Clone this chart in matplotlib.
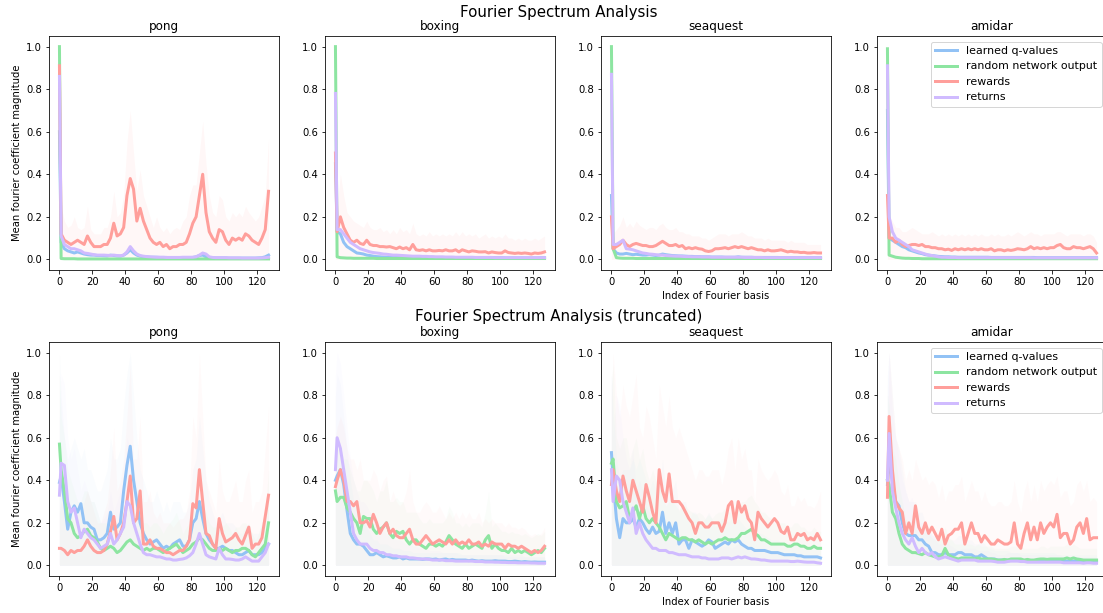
import numpy as np
import matplotlib.pyplot as plt

idx = [0] + list(range(1, 128, 2))

games = ["pong", "boxing", "seaquest", "amidar"]
labels = ["learned q-values", "random network output", "rewards", "returns"]
colors = ["#92c2f5", "#8de5a1", "#ff9f9b", "#d0bbff"]

# ---- full spectrum ----
pong_q = [.6, .08, .05, .04, .035, .03, .035, .03, .025, .022, .02, .02, .018,
          .018, .017, .016, .02, .018, .016, .015, .02, .03, .045, .03, .02, .015,
          .012, .012, .01, .01, .01, .009, .009, .009, .008, .008, .008, .008, .008,
          .008, .008, .009, .012, .018, .02, .012, .008, .007, .007, .007, .007, .007,
          .006, .006, .006, .006, .006, .006, .006, .006, .006, .007, .008, .012, .02]
pong_rnd = [1.0, .004, .003, .003, .003, .003, .002, .002, .002, .002, .002, .002, .002,
            .002, .002, .002, .002, .002, .002, .002, .002, .002, .002, .002, .002, .002,
            .002, .002, .002, .002, .002, .002, .002, .002, .002, .002, .002, .002, .002,
            .002, .002, .002, .002, .002, .002, .002, .002, .002, .002, .002, .002, .002,
            .002, .002, .002, .002, .002, .002, .002, .002, .002, .002, .002, .002, .002]
pong_rew = [.91, .12, .09, .08, .07, .08, .09, .08, .07, .11, .08, .06, .06,
            .06, .07, .07, .1, .17, .11, .12, .15, .3, .38, .33, .18, .24,
            .18, .14, .1, .08, .07, .08, .06, .07, .05, .06, .06, .07, .07,
            .08, .12, .17, .2, .3, .4, .22, .13, .1, .08, .14, .13, .09,
            .07, .1, .09, .1, .09, .12, .11, .09, .08, .07, .1, .14, .32]
pong_ret = [.86, .11, .07, .06, .05, .05, .045, .04, .03, .028, .025, .022, .02,
            .02, .02, .019, .018, .02, .018, .017, .02, .035, .06, .04, .025, .018,
            .015, .013, .012, .011, .01, .01, .01, .009, .009, .009, .009, .009, .01,
            .01, .01, .01, .012, .02, .03, .025, .012, .009, .008, .008, .008, .008,
            .007, .007, .007, .007, .006, .006, .006, .006, .006, .006, .007, .008, .01]
pong_rew_hi = [.95, .25, .18, .15, .16, .2, .15, .14, .15, .25, .14, .12, .12,
               .12, .15, .15, .2, .32, .2, .22, .3, .55, .7, .5, .32, .42,
               .3, .25, .2, .15, .2, .15, .13, .15, .12, .14, .15, .14, .18,
               .2, .3, .35, .35, .5, .65, .45, .3, .22, .2, .3, .28, .2,
               .18, .22, .2, .22, .2, .25, .22, .2, .18, .2, .25, .3, .57]

boxing_q = [.45, .13, .12, .08, .06, .05, .04, .03, .028, .025, .02, .018, .015,
            .013, .012, .011, .01, .01, .009, .009, .009, .008, .008, .008, .008, .008,
            .008, .008, .008, .008, .008, .008, .008, .008, .008, .008, .008, .008, .008,
            .008, .008, .008, .008, .008, .008, .008, .008, .008, .008, .008, .008, .008,
            .007, .007, .007, .007, .007, .007, .007, .007, .007, .007, .007, .008, .008]
boxing_rnd = [1.0, .012, .008, .007, .006, .006, .005, .005, .005, .005, .005, .005, .005,
              .004, .004, .004, .004, .004, .004, .004, .004, .004, .004, .004, .004, .004,
              .004, .004, .004, .004, .004, .004, .004, .004, .004, .004, .004, .004, .004,
              .004, .004, .004, .004, .004, .004, .004, .004, .004, .004, .004, .004, .004,
              .004, .004, .004, .004, .004, .004, .004, .004, .004, .004, .004, .004, .004]
boxing_rew = [.5, .13, .2, .15, .12, .09, .08, .09, .075, .07, .09, .07, .065,
              .065, .06, .06, .058, .06, .055, .05, .058, .05, .055, .045, .07, .045,
              .042, .045, .04, .045, .04, .04, .042, .04, .045, .04, .04, .045, .035,
              .045, .04, .035, .04, .038, .035, .035, .036, .03, .035, .032, .03, .03,
              .04, .032, .03, .028, .03, .028, .03, .028, .025, .03, .028, .03, .035]
boxing_ret = [.78, .14, .14, .12, .1, .08, .07, .06, .05, .045, .04, .035, .032,
              .03, .028, .025, .024, .022, .02, .02, .019, .018, .017, .016, .015, .015,
              .015, .014, .014, .013, .013, .012, .012, .012, .011, .011, .011, .01, .01,
              .01, .01, .01, .01, .009, .009, .009, .009, .009, .009, .008, .008, .008,
              .008, .008, .008, .008, .008, .008, .008, .008, .008, .008, .008, .008, .008]
boxing_rew_hi = [.55, .25, .4, .3, .22, .2, .18, .17, .16, .15, .18, .15, .14,
                 .14, .15, .13, .14, .12, .14, .12, .15, .13, .14, .12, .17, .12,
                 .11, .12, .11, .13, .11, .12, .11, .12, .11, .12, .11, .13, .11,
                 .13, .11, .12, .11, .12, .1, .11, .12, .1, .11, .1, .11, .1,
                 .12, .1, .1, .09, .1, .09, .1, .09, .09, .1, .09, .1, .11]

seaquest_q = [.3, .05, .03, .025, .025, .028, .025, .022, .024, .022, .02, .02, .022,
              .02, .018, .02, .025, .022, .02, .018, .017, .016, .016, .015, .014, .014,
              .013, .013, .012, .012, .012, .011, .011, .011, .011, .01, .01, .01, .01,
              .012, .01, .01, .01, .01, .009, .009, .009, .009, .009, .009, .009, .009,
              .008, .008, .008, .008, .008, .008, .008, .008, .008, .008, .008, .008, .008]
seaquest_rnd = [1.0, .05, .008, .006, .005, .005, .005, .005, .004, .004, .004, .004, .004,
                .004, .004, .004, .004, .004, .004, .004, .004, .004, .004, .004, .004, .004,
                .004, .004, .004, .004, .004, .004, .004, .004, .004, .004, .004, .004, .004,
                .004, .004, .004, .004, .004, .004, .004, .004, .004, .004, .004, .004, .004,
                .004, .004, .004, .004, .004, .004, .004, .004, .004, .004, .004, .004, .004]
seaquest_rew = [.2, .05, .06, .07, .09, .07, .06, .07, .075, .07, .065, .065, .06,
                .06, .065, .075, .085, .075, .065, .065, .07, .06, .065, .05, .055, .05,
                .055, .05, .048, .04, .037, .04, .05, .05, .052, .055, .05, .055, .06,
                .055, .06, .055, .05, .055, .05, .045, .045, .04, .045, .04, .04, .042,
                .045, .04, .035, .038, .035, .035, .032, .033, .03, .03, .032, .03, .03]
seaquest_ret = [.87, .07, .07, .08, .09, .05, .048, .045, .04, .035, .03, .028, .025,
                .024, .022, .02, .02, .018, .017, .016, .015, .015, .014, .013, .013, .012,
                .012, .012, .011, .011, .011, .01, .01, .01, .01, .01, .01, .01, .01,
                .01, .01, .009, .009, .009, .009, .009, .009, .008, .008, .008, .008, .008,
                .008, .008, .008, .008, .008, .008, .008, .008, .008, .008, .008, .008, .008]
seaquest_rew_hi = [.3, .12, .14, .16, .2, .15, .17, .15, .18, .16, .15, .14, .15,
                   .15, .14, .16, .17, .15, .14, .14, .15, .13, .13, .12, .12, .11,
                   .11, .11, .1, .1, .09, .1, .11, .12, .12, .12, .11, .12, .12,
                   .12, .13, .12, .11, .11, .1, .1, .1, .09, .1, .09, .09, .09,
                   .09, .09, .08, .09, .08, .08, .08, .08, .07, .07, .07, .07, .07]

amidar_q = [.7, .1, .09, .08, .07, .06, .055, .045, .04, .035, .03, .027, .022,
            .02, .018, .016, .014, .013, .012, .012, .011, .011, .01, .01, .01, .01,
            .01, .01, .01, .01, .01, .01, .009, .009, .009, .009, .009, .009, .009,
            .009, .009, .009, .009, .009, .009, .009, .008, .008, .008, .008, .008, .008,
            .008, .008, .008, .008, .008, .008, .008, .008, .008, .008, .008, .008, .008]
amidar_rnd = [.99, .02, .015, .01, .008, .006, .005, .005, .004, .004, .004, .003, .003,
              .003, .003, .003, .003, .003, .003, .003, .003, .003, .003, .003, .003, .003,
              .003, .003, .003, .003, .003, .003, .003, .003, .003, .003, .003, .003, .003,
              .003, .003, .003, .003, .003, .003, .003, .003, .003, .003, .003, .003, .003,
              .003, .003, .003, .003, .003, .003, .003, .003, .003, .003, .003, .003, .003]
amidar_rew = [.3, .1, .1, .08, .09, .07, .06, .065, .07, .07, .065, .07, .06,
              .06, .055, .055, .05, .05, .045, .048, .042, .05, .045, .05, .045, .05,
              .045, .05, .045, .05, .045, .045, .05, .04, .045, .045, .04, .045, .042,
              .045, .05, .048, .045, .05, .06, .05, .055, .05, .055, .05, .055, .055,
              .065, .07, .055, .05, .05, .06, .055, .055, .05, .055, .06, .05, .03]
amidar_ret = [.91, .2, .13, .1, .09, .08, .07, .06, .045, .04, .035, .03, .025,
              .02, .018, .015, .012, .01, .01, .009, .009, .009, .008, .008, .008, .008,
              .008, .008, .008, .008, .008, .008, .008, .008, .008, .008, .008, .008, .008,
              .008, .008, .008, .008, .008, .008, .007, .007, .007, .007, .007, .007, .007,
              .007, .007, .007, .007, .007, .007, .007, .007, .007, .007, .007, .007, .007]
amidar_rew_hi = [.4, .2, .18, .15, .15, .13, .13, .14, .15, .14, .13, .12, .12,
                 .12, .13, .12, .11, .12, .11, .12, .11, .12, .11, .12, .11, .12,
                 .11, .12, .11, .12, .11, .11, .12, .11, .12, .11, .11, .12, .11,
                 .12, .13, .12, .11, .12, .13, .12, .12, .11, .12, .12, .12, .12,
                 .13, .13, .12, .11, .12, .12, .12, .12, .11, .12, .12, .11, .08]

# ---- truncated spectrum ----
pong_t_q = [.39, .42, .3, .17, .25, .28, .25, .29, .2, .2, .18, .17, .12,
            .12, .13, .15, .25, .17, .18, .2, .35, .47, .56, .4, .3, .2,
            .15, .12, .1, .11, .12, .1, .08, .09, .08, .1, .11, .12, .09,
            .09, .12, .2, .22, .3, .22, .15, .12, .1, .08, .08, .09, .08,
            .07, .07, .06, .05, .05, .06, .07, .05, .05, .05, .06, .08, .1]
pong_t_rnd = [.57, .45, .35, .22, .2, .15, .13, .14, .16, .17, .14, .13, .11,
              .08, .07, .08, .09, .08, .06, .07, .09, .11, .12, .1, .09, .08,
              .07, .08, .07, .08, .08, .07, .06, .07, .08, .09, .1, .08, .06,
              .07, .08, .1, .11, .13, .12, .1, .08, .07, .07, .08, .07, .08,
              .07, .06, .07, .07, .08, .08, .07, .05, .04, .06, .08, .1, .2]
pong_t_rew = [.08, .08, .07, .05, .07, .06, .07, .07, .09, .12, .09, .07, .06,
              .06, .07, .1, .16, .23, .12, .15, .2, .3, .42, .2, .22, .35,
              .1, .1, .12, .09, .08, .08, .07, .06, .06, .05, .06, .07, .07,
              .09, .12, .29, .27, .45, .3, .15, .14, .1, .08, .22, .15, .11,
              .12, .13, .15, .12, .1, .14, .18, .08, .1, .1, .13, .23, .33]
pong_t_ret = [.33, .48, .47, .3, .25, .27, .2, .13, .17, .15, .13, .12, .1,
              .08, .09, .1, .15, .1, .12, .15, .18, .3, .28, .2, .15, .1,
              .06, .05, .05, .045, .04, .04, .035, .03, .03, .025, .025, .028, .03,
              .035, .045, .06, .1, .15, .1, .05, .04, .035, .03, .08, .05, .03,
              .03, .028, .025, .025, .03, .04, .03, .02, .02, .02, .04, .06, .1]
pong_t_q_hi = [1.0, .8, .6, .5, .55, .6, .55, .5, .55, .45, .45, .4, .35,
               .35, .4, .45, .6, .5, .5, .55, .75, .9, 1.0, .8, .6, .45,
               .4, .35, .3, .3, .35, .3, .25, .3, .25, .3, .3, .3, .25,
               .25, .3, .45, .5, .7, .55, .4, .3, .25, .2, .22, .25, .2,
               .2, .2, .18, .15, .15, .18, .2, .15, .15, .15, .2, .25, .35]
pong_t_rnd_hi = [.9, .7, .6, .45, .4, .35, .3, .3, .35, .35, .3, .3, .25,
                 .2, .2, .2, .22, .2, .18, .2, .22, .25, .3, .25, .22, .2,
                 .2, .2, .18, .2, .2, .18, .15, .18, .2, .22, .25, .2, .15,
                 .18, .2, .25, .28, .3, .28, .25, .2, .18, .18, .2, .18, .2,
                 .18, .15, .18, .18, .2, .2, .18, .15, .12, .15, .2, .25, .45]
pong_t_rew_hi = [.25, .3, .25, .2, .25, .2, .25, .25, .3, .35, .3, .25, .2,
                 .2, .25, .3, .45, .65, .35, .4, .5, .7, .95, .5, .5, .7,
                 .3, .3, .35, .25, .22, .25, .2, .2, .2, .18, .2, .22, .22,
                 .25, .35, .7, .6, 1.0, .7, .4, .35, .3, .25, .5, .35, .3,
                 .3, .35, .4, .3, .3, .4, .45, .25, .3, .3, .35, .55, .75]
pong_t_ret_hi = [.7, .9, .85, .6, .5, .55, .45, .35, .4, .35, .3, .3, .25,
                 .2, .22, .25, .35, .25, .3, .35, .4, .6, .55, .45, .35, .25,
                 .15, .13, .12, .12, .1, .1, .09, .08, .08, .07, .07, .08, .08,
                 .09, .12, .15, .25, .35, .25, .13, .1, .09, .08, .2, .12, .08,
                 .08, .07, .07, .07, .08, .1, .08, .06, .06, .06, .1, .15, .25]

boxing_t_q = [.4, .42, .45, .38, .26, .15, .12, .1, .1, .09, .07, .05, .05,
              .06, .05, .04, .045, .04, .035, .035, .04, .03, .035, .03, .03, .03,
              .03, .028, .03, .03, .028, .03, .025, .028, .03, .025, .028, .025, .025,
              .025, .025, .022, .025, .022, .02, .022, .02, .02, .02, .022, .02, .02,
              .02, .018, .018, .02, .018, .016, .018, .016, .015, .016, .015, .015, .015]
boxing_t_rnd = [.35, .3, .32, .32, .27, .25, .22, .2, .15, .23, .22, .22, .17,
                .15, .17, .18, .2, .15, .13, .16, .15, .16, .12, .1, .12, .12,
                .1, .09, .08, .1, .1, .09, .1, .09, .11, .14, .12, .1, .09,
                .08, .1, .08, .09, .1, .09, .08, .12, .14, .08, .1, .08, .07,
                .07, .06, .08, .06, .07, .06, .07, .06, .05, .06, .07, .06, .08]
boxing_t_rew = [.37, .4, .45, .4, .3, .3, .28, .3, .2, .2, .21, .18, .24,
                .2, .15, .18, .2, .15, .17, .14, .13, .13, .15, .17, .12, .1,
                .1, .12, .14, .12, .1, .11, .12, .11, .1, .12, .1, .12, .1,
                .11, .1, .12, .1, .1, .11, .09, .1, .09, .11, .1, .1, .1,
                .08, .1, .09, .09, .08, .09, .08, .07, .06, .07, .06, .07, .09]
boxing_t_ret = [.45, .6, .55, .45, .35, .25, .15, .12, .1, .1, .1, .08, .07,
                .07, .06, .06, .05, .05, .045, .045, .04, .04, .04, .035, .035, .033,
                .03, .03, .03, .028, .025, .025, .025, .025, .022, .022, .022, .02, .02,
                .02, .02, .02, .02, .018, .018, .018, .016, .016, .016, .015, .015, .014,
                .014, .013, .013, .013, .012, .012, .012, .012, .011, .011, .01, .01, .01]
boxing_t_q_hi = [.8, .9, .85, .7, .55, .4, .3, .25, .2, .2, .18, .15, .12,
                 .12, .1, .1, .1, .09, .08, .08, .08, .07, .07, .07, .06, .06,
                 .06, .06, .06, .06, .06, .06, .06, .06, .06, .06, .06, .06, .06,
                 .05, .05, .05, .05, .05, .05, .05, .05, .05, .05, .05, .05, .05,
                 .05, .05, .05, .05, .05, .05, .04, .04, .04, .04, .04, .04, .04]
boxing_t_rnd_hi = [.6, .55, .55, .5, .5, .45, .4, .35, .35, .4, .4, .38, .35,
                   .3, .35, .35, .4, .3, .3, .32, .3, .3, .25, .25, .25, .25,
                   .22, .2, .2, .22, .2, .2, .2, .2, .22, .28, .25, .2, .2,
                   .18, .2, .18, .2, .2, .2, .18, .25, .35, .18, .2, .18, .16,
                   .16, .15, .16, .15, .15, .14, .15, .14, .13, .14, .15, .14, .16]
boxing_t_rew_hi = [.6, .65, .7, .65, .55, .5, .5, .45, .5, .4, .4, .4, .45,
                   .42, .35, .4, .42, .3, .35, .3, .28, .3, .35, .45, .3, .25,
                   .25, .28, .3, .28, .25, .25, .28, .25, .22, .25, .22, .25, .22,
                   .25, .22, .25, .22, .22, .25, .2, .22, .2, .22, .2, .2, .2,
                   .18, .2, .18, .18, .17, .18, .17, .15, .14, .15, .14, .15, .18]
boxing_t_ret_hi = [.9, 1.0, .95, .8, .65, .5, .4, .35, .3, .3, .28, .25, .22,
                   .2, .18, .16, .15, .14, .13, .12, .12, .11, .1, .1, .09, .09,
                   .08, .08, .08, .07, .07, .07, .07, .06, .06, .06, .06, .06, .05,
                   .05, .05, .05, .05, .05, .05, .05, .05, .05, .05, .05, .05, .05,
                   .04, .04, .04, .04, .04, .04, .04, .04, .04, .04, .04, .04, .04]

seaquest_t_q = [.53, .4, .22, .13, .22, .2, .2, .22, .18, .22, .2, .17, .15,
                .18, .15, .16, .25, .15, .2, .15, .2, .1, .12, .12, .08, .12,
                .11, .1, .09, .1, .12, .11, .08, .09, .1, .11, .1, .12, .11,
                .12, .1, .09, .08, .08, .07, .07, .07, .07, .065, .06, .06, .06,
                .055, .05, .05, .05, .05, .045, .045, .04, .04, .04, .04, .04, .035]
seaquest_t_rnd = [.48, .5, .3, .27, .28, .3, .22, .25, .28, .22, .28, .22, .2,
                  .22, .2, .18, .15, .12, .15, .14, .13, .12, .13, .13, .12, .12,
                  .11, .12, .11, .1, .11, .1, .11, .12, .12, .13, .12, .12, .12,
                  .13, .15, .15, .16, .17, .15, .14, .12, .12, .11, .1, .1, .1,
                  .1, .1, .09, .09, .1, .1, .09, .09, .08, .08, .09, .08, .08]
seaquest_t_rew = [.38, .45, .35, .3, .42, .35, .3, .4, .35, .3, .25, .38, .32,
                  .25, .2, .45, .35, .3, .43, .3, .3, .3, .28, .25, .22, .2,
                  .15, .2, .2, .18, .18, .2, .2, .2, .16, .2, .28, .3, .2,
                  .3, .25, .28, .22, .2, .12, .25, .22, .2, .18, .2, .22, .2,
                  .16, .15, .18, .12, .12, .15, .14, .15, .12, .13, .12, .15, .12]
seaquest_t_ret = [.45, .3, .42, .4, .3, .25, .2, .27, .15, .2, .15, .12, .1,
                  .08, .08, .07, .07, .07, .06, .06, .055, .05, .05, .05, .045, .04,
                  .04, .04, .035, .035, .03, .03, .03, .03, .035, .035, .035, .03, .035,
                  .04, .035, .04, .035, .03, .03, .028, .025, .025, .022, .02, .02, .02,
                  .02, .02, .02, .018, .018, .02, .018, .016, .015, .015, .015, .012, .01]
seaquest_t_q_hi = [.9, .75, .5, .4, .45, .45, .45, .5, .45, .5, .45, .4, .35,
                   .4, .35, .35, .5, .35, .4, .35, .4, .25, .3, .3, .2, .25,
                   .25, .22, .2, .22, .25, .22, .18, .2, .22, .22, .2, .22, .2,
                   .22, .2, .18, .16, .16, .15, .15, .15, .14, .13, .12, .12, .12,
                   .11, .1, .1, .1, .1, .09, .09, .08, .08, .08, .08, .08, .07]
seaquest_t_rnd_hi = [.85, .95, .6, .55, .6, .6, .5, .55, .6, .5, .55, .45, .4,
                     .45, .4, .38, .32, .28, .3, .3, .28, .26, .28, .28, .26, .25,
                     .24, .25, .24, .22, .24, .22, .24, .25, .25, .27, .25, .25, .25,
                     .27, .3, .3, .32, .33, .3, .28, .25, .25, .23, .22, .2, .2,
                     .2, .2, .18, .18, .2, .2, .18, .18, .16, .16, .18, .16, .16]
seaquest_t_rew_hi = [.8, 1.0, .8, .7, .85, .75, .7, .8, .9, .65, .6, .75, .7,
                     .6, .5, .85, .75, .65, .8, .65, .6, .65, .6, .55, .5, .45,
                     .4, .45, .45, .42, .42, .45, .45, .45, .38, .45, .55, .6, .45,
                     .6, .5, .55, .45, .45, .3, .5, .45, .42, .4, .42, .45, .42,
                     .35, .33, .38, .28, .28, .33, .3, .32, .28, .28, .27, .3, .35]
seaquest_t_ret_hi = [.9, .6, .8, .75, .6, .5, .45, .55, .35, .4, .35, .28, .25,
                     .2, .2, .18, .17, .17, .15, .15, .14, .12, .12, .12, .11, .1,
                     .1, .1, .09, .09, .08, .08, .08, .08, .09, .09, .09, .08, .09,
                     .1, .09, .1, .09, .08, .08, .07, .07, .07, .06, .06, .06, .06,
                     .06, .06, .06, .05, .05, .06, .05, .05, .045, .045, .045, .04, .035]

amidar_t_q = [.38, .5, .4, .3, .28, .2, .15, .14, .14, .14, .12, .12, .1,
              .09, .06, .06, .05, .05, .06, .05, .05, .05, .06, .06, .05, .05,
              .05, .04, .04, .05, .04, .03, .03, .03, .025, .025, .025, .025, .025,
              .025, .025, .025, .022, .022, .02, .02, .022, .02, .02, .02, .02, .02,
              .02, .02, .02, .02, .02, .02, .02, .02, .02, .02, .02, .02, .02]
amidar_t_rnd = [.4, .38, .25, .22, .15, .1, .08, .07, .06, .06, .055, .05, .06,
                .05, .045, .04, .04, .045, .08, .05, .04, .035, .03, .035, .035, .035,
                .035, .03, .035, .03, .03, .03, .03, .028, .025, .025, .028, .025, .03,
                .03, .03, .03, .025, .028, .025, .025, .028, .03, .03, .028, .03, .03,
                .03, .03, .03, .035, .03, .035, .03, .028, .025, .025, .025, .025, .025]
amidar_t_rew = [.32, .7, .45, .3, .27, .25, .15, .2, .15, .28, .18, .15, .2,
                .15, .18, .15, .12, .17, .1, .14, .15, .17, .17, .2, .1, .15,
                .2, .15, .15, .11, .14, .12, .1, .1, .12, .11, .1, .1, .11,
                .2, .1, .08, .15, .2, .12, .18, .12, .2, .15, .18, .2, .18,
                .24, .13, .15, .15, .1, .12, .18, .2, .15, .22, .12, .13, .13]
amidar_t_ret = [.4, .62, .35, .27, .2, .15, .12, .1, .13, .09, .06, .08, .06,
                .05, .06, .04, .03, .035, .04, .035, .03, .025, .02, .025, .025, .025,
                .025, .025, .02, .02, .02, .02, .02, .018, .015, .015, .015, .018, .02,
                .02, .02, .018, .018, .015, .015, .015, .015, .015, .015, .015, .015, .015,
                .015, .015, .012, .012, .012, .012, .012, .012, .01, .012, .012, .01, .01]
amidar_t_q_hi = [.9, 1.0, .8, .6, .55, .45, .35, .3, .3, .3, .25, .25, .2,
                 .18, .14, .14, .12, .12, .14, .12, .12, .12, .14, .14, .12, .12,
                 .12, .1, .1, .12, .1, .08, .08, .07, .07, .07, .07, .07, .06,
                 .06, .06, .06, .06, .06, .06, .06, .06, .06, .06, .06, .06, .06,
                 .05, .05, .05, .05, .05, .05, .05, .05, .05, .05, .05, .05, .05]
amidar_t_rnd_hi = [.8, .75, .55, .5, .38, .3, .22, .2, .18, .17, .16, .15, .16,
                   .15, .13, .12, .12, .13, .18, .13, .12, .1, .1, .1, .1, .1,
                   .1, .09, .1, .09, .09, .09, .09, .08, .08, .08, .08, .08, .09,
                   .09, .09, .09, .08, .08, .08, .08, .08, .09, .09, .08, .09, .09,
                   .09, .09, .09, .1, .09, .1, .09, .08, .08, .08, .08, .08, .08]
amidar_t_rew_hi = [.6, 1.0, .8, .6, .55, .5, .4, .45, .4, .5, .45, .4, .42,
                   .38, .4, .38, .32, .38, .3, .35, .35, .38, .38, .42, .3, .35,
                   .4, .35, .35, .3, .35, .3, .28, .28, .3, .3, .28, .28, .3,
                   .4, .3, .25, .35, .4, .3, .38, .3, .4, .35, .38, .4, .38,
                   .42, .32, .35, .35, .28, .3, .38, .4, .35, .4, .3, .32, .3]
amidar_t_ret_hi = [.85, 1.0, .7, .6, .5, .4, .35, .3, .32, .25, .2, .2, .18,
                   .15, .15, .12, .1, .1, .12, .1, .09, .08, .07, .08, .08, .08,
                   .08, .08, .07, .07, .07, .07, .06, .06, .05, .05, .05, .06, .06,
                   .06, .06, .05, .05, .05, .05, .05, .05, .05, .05, .05, .05, .05,
                   .05, .05, .04, .04, .04, .04, .04, .04, .04, .04, .04, .04, .04]

full = [
    ([pong_q, pong_rnd, pong_rew, pong_ret], [None, None, pong_rew_hi, None]),
    ([boxing_q, boxing_rnd, boxing_rew, boxing_ret], [None, None, boxing_rew_hi, None]),
    ([seaquest_q, seaquest_rnd, seaquest_rew, seaquest_ret], [None, None, seaquest_rew_hi, None]),
    ([amidar_q, amidar_rnd, amidar_rew, amidar_ret], [None, None, amidar_rew_hi, None]),
]
trunc = [
    ([pong_t_q, pong_t_rnd, pong_t_rew, pong_t_ret],
     [pong_t_q_hi, pong_t_rnd_hi, pong_t_rew_hi, pong_t_ret_hi]),
    ([boxing_t_q, boxing_t_rnd, boxing_t_rew, boxing_t_ret],
     [boxing_t_q_hi, boxing_t_rnd_hi, boxing_t_rew_hi, boxing_t_ret_hi]),
    ([seaquest_t_q, seaquest_t_rnd, seaquest_t_rew, seaquest_t_ret],
     [seaquest_t_q_hi, seaquest_t_rnd_hi, seaquest_t_rew_hi, seaquest_t_ret_hi]),
    ([amidar_t_q, amidar_t_rnd, amidar_t_rew, amidar_t_ret],
     [amidar_t_q_hi, amidar_t_rnd_hi, amidar_t_rew_hi, amidar_t_ret_hi]),
]

W, H = 1103, 613
fig = plt.figure(figsize=(W / 72, H / 72), dpi=72)

lefts = [49, 325, 601, 877]
ax_w, ax_h = 230, 234
tops = [36, 342]


def draw_row(top, data, band_alpha):
    for col, (series, bands) in enumerate(data):
        ax = fig.add_axes([lefts[col] / W, (H - top - ax_h) / H, ax_w / W, ax_h / H])
        x = np.array(idx)
        for hi, c in zip(bands, colors):
            if hi is not None:
                ax.fill_between(x, 0, hi, color=c, alpha=band_alpha, lw=0)
        for y, c, lab in zip(series, colors, labels):
            ax.plot(x, y, color=c, lw=3, label=lab)
        ax.set_xlim(-6.35, 133.35)
        ax.set_ylim(-0.05, 1.05)
        ax.set_xticks([0, 20, 40, 60, 80, 100, 120])
        ax.set_yticks([0.0, 0.2, 0.4, 0.6, 0.8, 1.0])
        ax.set_title(games[col], fontsize=12)
        if col == 0:
            ax.set_ylabel("Mean fourier coefficient magnitude", fontsize=10)
        if col == 2:
            ax.set_xlabel("Index of Fourier basis", fontsize=10)
        if col == 3:
            ax.legend(loc="upper right", fontsize=11)


draw_row(tops[0], full, 0.08)
draw_row(tops[1], trunc, 0.045)

fig.text(559 / W, 1 - 12 / H, "Fourier Spectrum Analysis", ha="center", va="center", fontsize=15)
fig.text(559 / W, 1 - 317 / H, "Fourier Spectrum Analysis (truncated)", ha="center", va="center", fontsize=15)

fig.savefig("out.png", dpi=72)
